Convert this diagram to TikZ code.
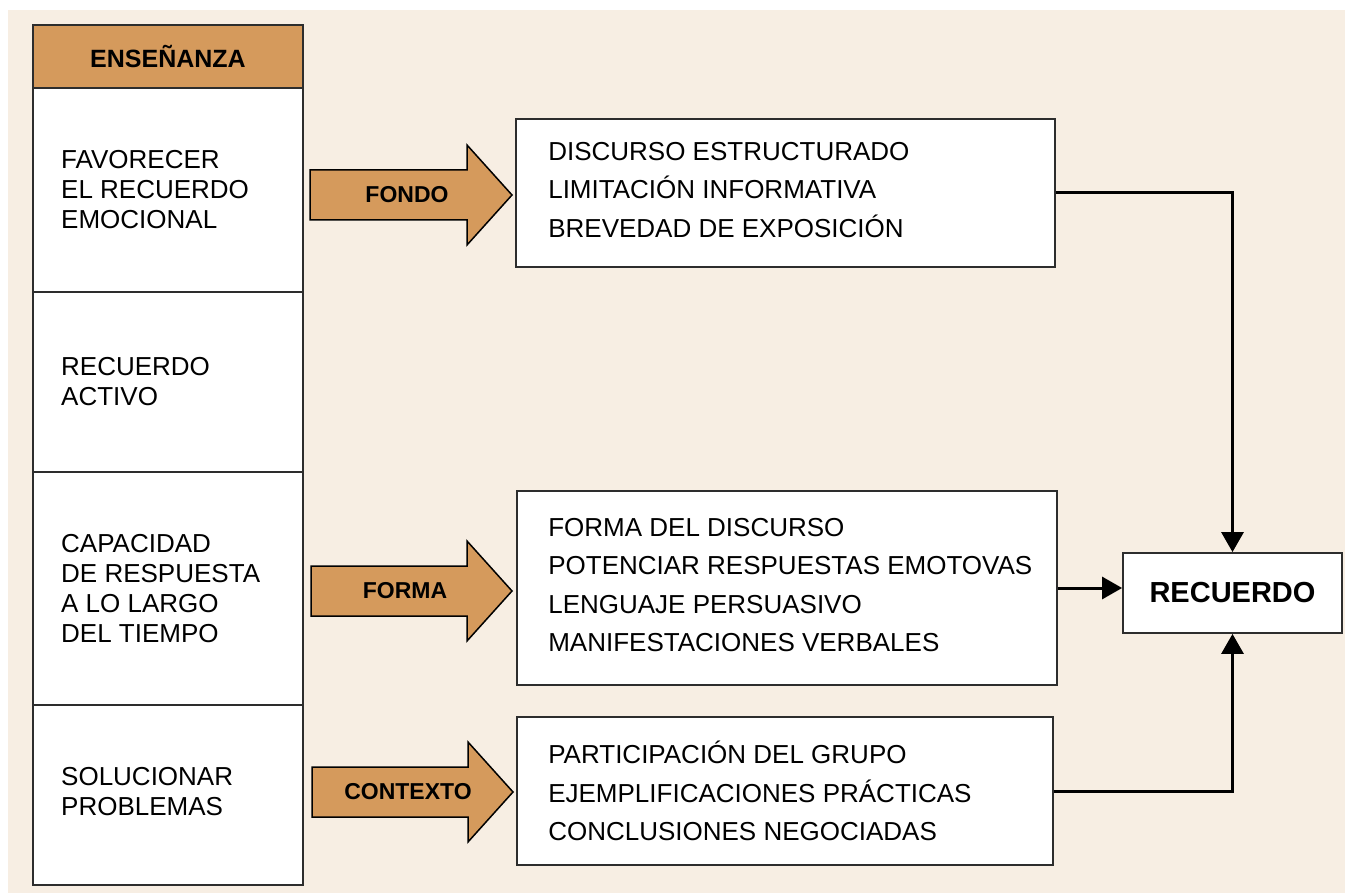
\documentclass[tikz,border=0pt]{standalone}
\usepackage{fontspec}
\setmainfont{Liberation Sans}
\usetikzlibrary{arrows.meta}

\definecolor{cream}{RGB}{247,238,227}
\definecolor{ochre}{RGB}{213,154,92}
\definecolor{edge}{RGB}{45,45,45}

\begin{document}
\begin{tikzpicture}[x=1pt, y=-1pt,
  cell/.style={draw=edge, line width=2pt, fill=white, inner sep=0pt, minimum width=270pt},
  box/.style={draw=edge, line width=1.8pt, fill=white, inner sep=0pt},
  plain/.style={anchor=west, align=left, inner sep=0pt, font=\fontsize{26}{30}\selectfont},
  list/.style={anchor=west, align=left, inner sep=0pt, font=\fontsize{26}{38.5}\selectfont},
  fat/.style={draw=black, line width=1.5pt, fill=ochre, line join=miter},
  tag/.style={font=\bfseries\fontsize{23}{26}\selectfont, inner sep=0pt},
  link/.style={line width=3pt, -{Triangle[length=20pt,width=22pt]}}]

\useasboundingbox (0,0) rectangle (1345,893);

% Background
\fill[cream] (8,10) rectangle (1345,893);

% Left column (ensenanza)
\node[cell, fill=ochre, minimum height=63pt, font=\bfseries\fontsize{25}{28}\selectfont] (head) at (168,56.5) {ENSEÑANZA};
\node[cell, minimum height=204pt] (r1) at (168,190) {};
\node[cell, minimum height=180pt] (r2) at (168,382) {};
\node[cell, minimum height=233pt] (r3) at (168,588.5) {};
\node[cell, minimum height=180pt] (r4) at (168,795) {};

\node[plain] (t1) at ([xshift=29pt]r1.west) {FAVORECER\\EL RECUERDO\\EMOCIONAL};
\node[plain] (t2) at ([xshift=29pt]r2.west) {RECUERDO\\ACTIVO};
\node[plain] (t3) at ([xshift=29pt]r3.west) {CAPACIDAD\\DE RESPUESTA\\A LO LARGO\\DEL TIEMPO};
\node[plain] (t4) at ([xshift=29pt,yshift=3pt]r4.west) {SOLUCIONAR\\PROBLEMAS};

% Big arrows
\draw[fat] (310,170) -- (467,170) -- (467,145) -- (512,195) -- (467,245) -- (467,220) -- (310,220) -- cycle;
\node[tag] (fondo) at (407,195) {FONDO};

\draw[fat] (311,566) -- (467,566) -- (467,541) -- (512,591) -- (467,641) -- (467,616) -- (311,616) -- cycle;
\node[tag] (forma) at (405,591) {FORMA};

\draw[fat] (312,767) -- (468,767) -- (468,742) -- (513,792) -- (468,842) -- (468,817) -- (312,817) -- cycle;
\node[tag] (contexto) at (408,792) {CONTEXTO};

% Content boxes
\node[box, minimum width=539pt, minimum height=148pt] (b1) at (785.5,193) {};
\node[list] (l1) at ([xshift=33pt,yshift=3pt]b1.west) {DISCURSO ESTRUCTURADO\\LIMITACIÓN INFORMATIVA\\BREVEDAD DE EXPOSICIÓN};

\node[box, minimum width=540pt, minimum height=194pt] (b2) at (787,588) {};
\node[list] (l2) at ([xshift=32pt,yshift=3pt]b2.west) {FORMA DEL DISCURSO\\POTENCIAR RESPUESTAS EMOTOVAS\\LENGUAJE PERSUASIVO\\MANIFESTACIONES VERBALES};

\node[box, minimum width=536pt, minimum height=148pt] (b3) at (785,791) {};
\node[list] (l3) at ([xshift=32pt]b3.west) {PARTICIPACIÓN DEL GRUPO\\EJEMPLIFICACIONES PRÁCTICAS\\CONCLUSIONES NEGOCIADAS};

% Result
\node[box, minimum width=219pt, minimum height=80pt, font=\bfseries\fontsize{29}{32}\selectfont] (rec) at (1232.5,593) {RECUERDO};

% Connectors
\draw[link] (b1.east) -| (rec.north);
\draw[link] (b2.east) -- (b2.east -| rec.west);
\draw[link] (b3.east) -| (rec.south);

\end{tikzpicture}
\end{document}
